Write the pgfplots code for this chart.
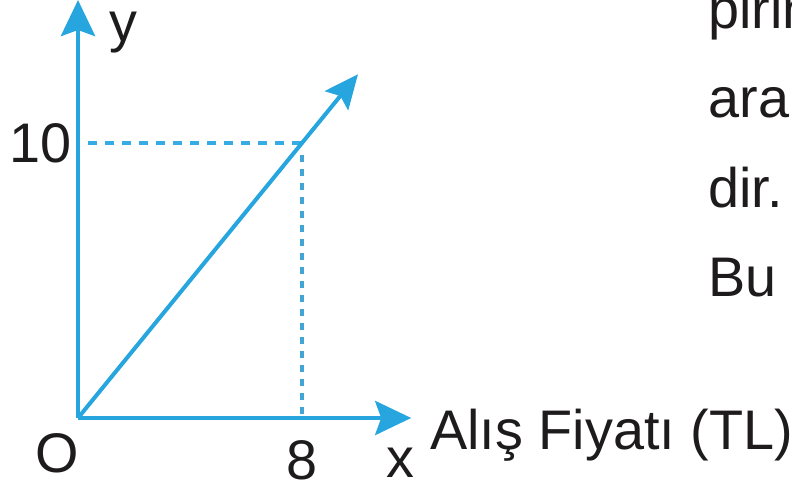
\documentclass[border=0pt]{standalone}
\usepackage{pgfplots}
\pgfplotsset{compat=1.18}
\usepackage{fontspec}
\setmainfont{Liberation Sans}
\usetikzlibrary{arrows.meta}
\definecolor{skyc}{RGB}{38,165,222}
\definecolor{dashc}{RGB}{55,172,228}
\definecolor{txt}{RGB}{30,27,28}
\newcommand{\bigfnt}{\fontsize{28}{30}\selectfont}
\begin{document}
\begin{tikzpicture}
\useasboundingbox (-39bp,-35.5bp) rectangle (357bp,209bp);
\begin{axis}[
  anchor=origin, at={(0,0)},
  x=14bp, y=13.75bp,
  xmin=0, xmax=11.9, ymin=0, ymax=15.2,
  axis lines=left,
  axis line style={line width=2.4bp, draw=skyc, -{Stealth[length=18bp,width=17bp,inset=3bp]}},
  xtick={8}, ytick={10},
  major tick length=0,
  /pgf/number format/assume math mode=true,
  tick label style={font=\bigfnt, text=txt, inner sep=1bp},
  xticklabel style={yshift=-10bp},
  yticklabel style={xshift=-2bp},
  clip=false,
]
\addplot[draw=dashc, line width=1.9bp, dash pattern=on 4.5bp off 4bp] coordinates {(0.36,10) (8,10)};
\addplot[draw=dashc!85!gray, line width=1.9bp, dash pattern=on 3.5bp off 3.5bp] coordinates {(8,9.56) (8,0.15)};
\addplot[draw=skyc, line width=2bp, -{Stealth[length=17bp,width=15bp,inset=3bp]}] coordinates {(0,0) (10,12.5)};
\node[font=\bigfnt, text=txt, anchor=center] at (axis cs:-0.75,-1.3) {O};
\node[font=\bigfnt, text=txt, anchor=base] at (axis cs:11.5,-2.18) {x};
\node[font=\bigfnt, text=txt, anchor=base west] at (axis cs:0.89,13.7) {y};
\node[font=\bigfnt, text=txt, anchor=base west, inner sep=0pt] at (axis cs:12.57,-1.16) {Alış Fiyatı (TL)};
\node[font=\bigfnt, text=txt, anchor=base west, inner sep=0pt] at (axis cs:22.5,14.18) {pirinç};
\node[font=\bigfnt, text=txt, anchor=base west, inner sep=0pt] at (axis cs:22.5,10.91) {ara};
\node[font=\bigfnt, text=txt, anchor=base west, inner sep=0pt] at (axis cs:22.5,7.64) {dir.};
\node[font=\bigfnt, text=txt, anchor=base west, inner sep=0pt] at (axis cs:22.5,4.4) {Bu};
\end{axis}
\end{tikzpicture}
\end{document}
